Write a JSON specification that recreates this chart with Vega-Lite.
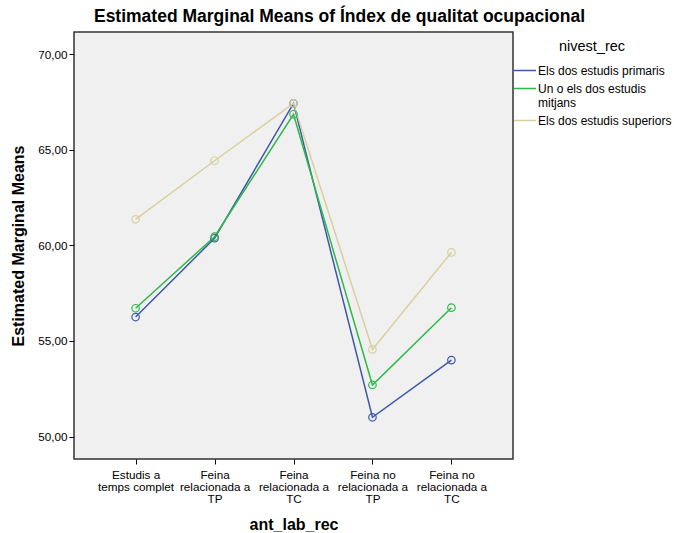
{
  "$schema": "https://vega.github.io/schema/vega-lite/v6.json",
  "autosize": "none",
  "width": 439,
  "height": 427,
  "padding": {"left": 74, "top": 32, "right": 161, "bottom": 74},
  "background": "white",
  "config": {
    "font": "Liberation Sans",
    "view": {"fill": "#f0f0f0", "stroke": "#333333", "strokeWidth": 1.5},
    "axis": {"labelFont": "Liberation Sans", "titleFont": "Liberation Sans", "labelColor": "#000", "titleColor": "#000", "tickColor": "#000", "domain": false, "grid": false}
  },
  "title": {
    "text": "Estimated Marginal Means of Índex de qualitat ocupacional",
    "font": "Liberation Sans",
    "fontSize": 17.5,
    "fontWeight": "bold",
    "color": "#000",
    "anchor": "middle",
    "dx": 46,
    "offset": 7
  },
  "data": {
    "values": [
      {"cat": "Estudis a temps complet", "nivell": "Els dos estudis primaris", "v": 56.25},
      {"cat": "Feina relacionada a TP", "nivell": "Els dos estudis primaris", "v": 60.37},
      {"cat": "Feina relacionada a TC", "nivell": "Els dos estudis primaris", "v": 67.42},
      {"cat": "Feina no relacionada a TP", "nivell": "Els dos estudis primaris", "v": 51.01},
      {"cat": "Feina no relacionada a TC", "nivell": "Els dos estudis primaris", "v": 54.0},
      {"cat": "Estudis a temps complet", "nivell": "Un o els dos estudis mitjans", "v": 56.71},
      {"cat": "Feina relacionada a TP", "nivell": "Un o els dos estudis mitjans", "v": 60.45},
      {"cat": "Feina relacionada a TC", "nivell": "Un o els dos estudis mitjans", "v": 66.85},
      {"cat": "Feina no relacionada a TP", "nivell": "Un o els dos estudis mitjans", "v": 52.7},
      {"cat": "Feina no relacionada a TC", "nivell": "Un o els dos estudis mitjans", "v": 56.74},
      {"cat": "Estudis a temps complet", "nivell": "Els dos estudis superiors", "v": 61.36},
      {"cat": "Feina relacionada a TP", "nivell": "Els dos estudis superiors", "v": 64.42},
      {"cat": "Feina relacionada a TC", "nivell": "Els dos estudis superiors", "v": 67.42},
      {"cat": "Feina no relacionada a TP", "nivell": "Els dos estudis superiors", "v": 54.56},
      {"cat": "Feina no relacionada a TC", "nivell": "Els dos estudis superiors", "v": 59.63}
    ]
  },
  "encoding": {
    "x": {
      "field": "cat",
      "type": "nominal",
      "sort": ["Estudis a temps complet", "Feina relacionada a TP", "Feina relacionada a TC", "Feina no relacionada a TP", "Feina no relacionada a TC"],
      "scale": {"type": "point", "padding": 0.78},
      "axis": {
        "title": "ant_lab_rec",
        "titleFontSize": 16,
        "titleFontWeight": "bold",
        "titlePadding": 12,
        "labelAngle": 0,
        "labelFontSize": 11.7,
        "labelLineHeight": 12,
        "tickSize": 5,
        "labelPadding": 5,
        "labelExpr": "datum.value == 'Estudis a temps complet' ? ['Estudis a', 'temps complet'] : datum.value == 'Feina relacionada a TP' ? ['Feina', 'relacionada a', 'TP'] : datum.value == 'Feina relacionada a TC' ? ['Feina', 'relacionada a', 'TC'] : datum.value == 'Feina no relacionada a TP' ? ['Feina no', 'relacionada a', 'TP'] : ['Feina no', 'relacionada a', 'TC']"
      }
    },
    "y": {
      "field": "v",
      "type": "quantitative",
      "scale": {"domain": [48.83, 71.15], "nice": false, "zero": false},
      "axis": {
        "title": "Estimated Marginal Means",
        "titleFontSize": 16,
        "titleFontWeight": "bold",
        "titlePadding": 11,
        "values": [50, 55, 60, 65, 70],
        "labelExpr": "replace(format(datum.value, '.2f'), '.', ',')",
        "labelFontSize": 11.7,
        "tickSize": 5,
        "labelPadding": 2
      }
    },
    "color": {
      "field": "nivell",
      "type": "nominal",
      "scale": {
        "domain": ["Els dos estudis primaris", "Un o els dos estudis mitjans", "Els dos estudis superiors"],
        "range": ["#3E58AC", "#2EB848", "#D8D09C"]
      },
      "legend": {
        "title": "nivest_rec",
        "orient": "none",
        "legendX": 439,
        "legendY": 8,
        "titleFontSize": 14.5,
        "titleFontWeight": "normal",
        "titleColor": "#000",
        "titleAnchor": "middle",
        "titlePadding": 4,
        "labelFontSize": 12,
        "labelColor": "#000",
        "labelOffset": 1,
        "symbolType": "stroke",
        "symbolSize": 484,
        "symbolStrokeWidth": 1.5,
        "rowPadding": -3,
        "labelLimit": 200,
        "labelExpr": "datum.value == 'Un o els dos estudis mitjans' ? ['Un o els dos estudis', 'mitjans'] : datum.value"
      }
    }
  },
  "layer": [
    {"mark": {"type": "line", "strokeWidth": 1.5}},
    {"mark": {"type": "point", "filled": false, "size": 56, "strokeWidth": 1.2, "opacity": 1}}
  ]
}
